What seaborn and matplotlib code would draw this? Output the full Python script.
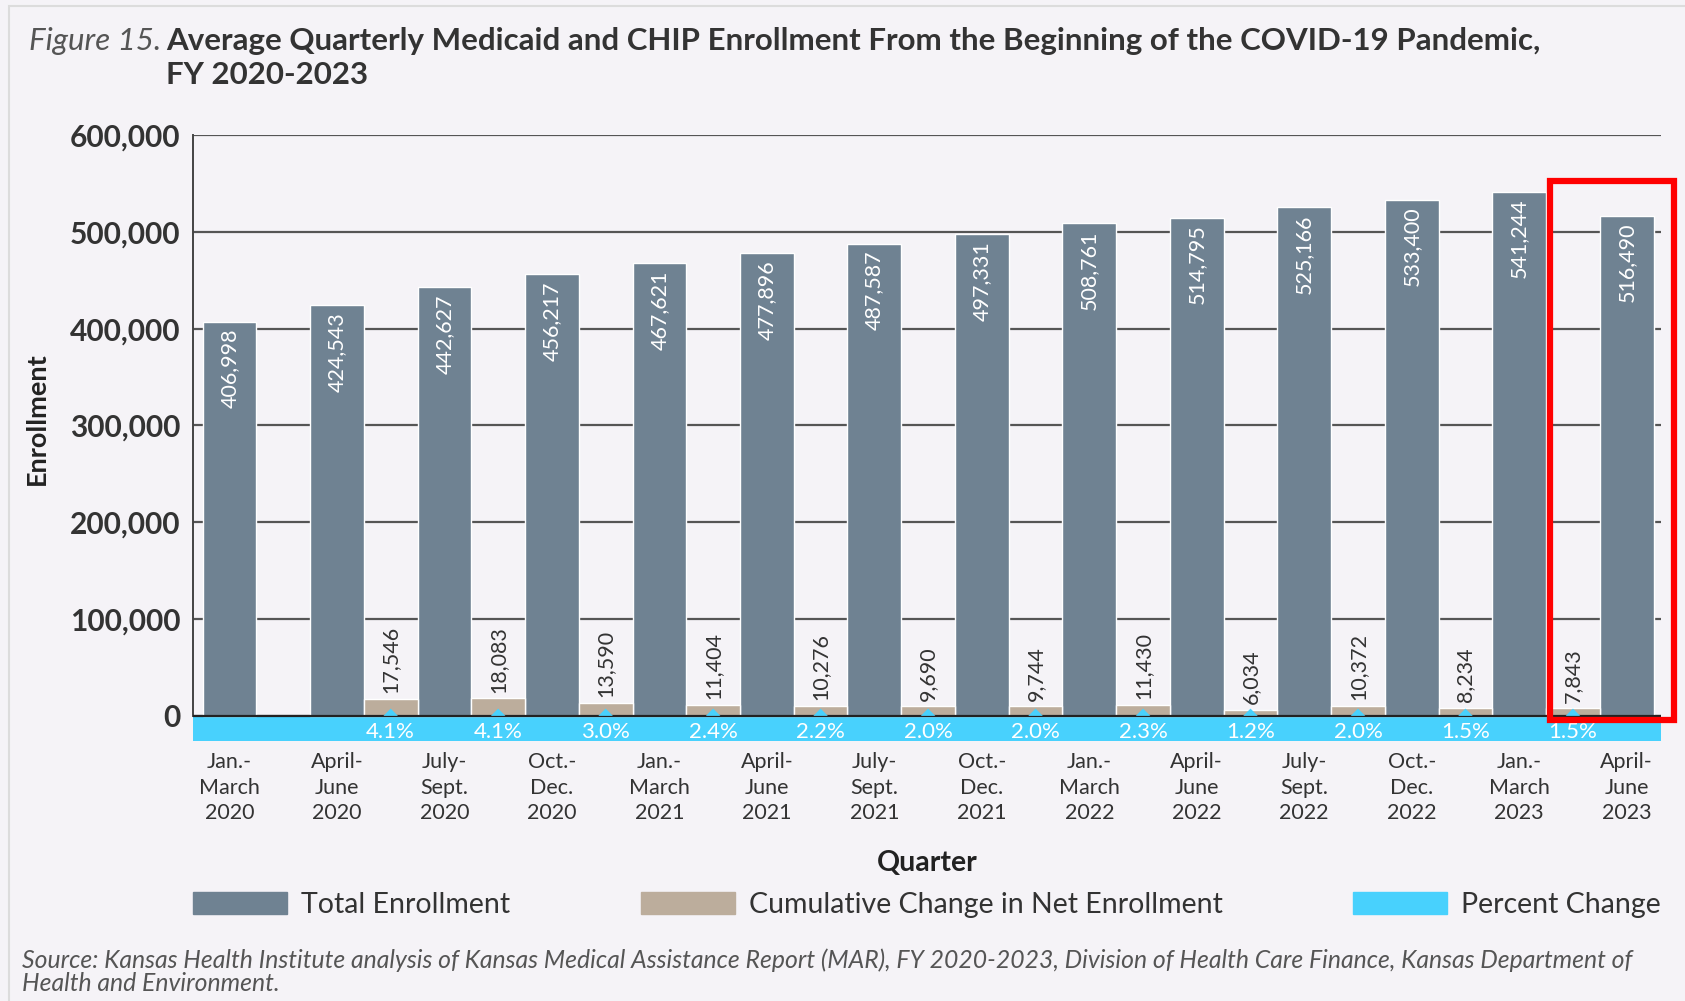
import matplotlib.pyplot as plt
import numpy as np
import pandas as pd
import seaborn as sns
from matplotlib.patches import Rectangle

quarters = ["Jan.-\nMarch\n2020", "April-\nJune\n2020", "July-\nSept.\n2020", "Oct.-\nDec.\n2020",
            "Jan.-\nMarch\n2021", "April-\nJune\n2021", "July-\nSept.\n2021", "Oct.-\nDec.\n2021",
            "Jan.-\nMarch\n2022", "April-\nJune\n2022", "July-\nSept.\n2022", "Oct.-\nDec.\n2022",
            "Jan.-\nMarch\n2023", "April-\nJune\n2023"]
total = [406998, 424543, 442627, 456217, 467621, 477896, 487587,
         497331, 508761, 514795, 525166, 533400, 541244, 516490]
# change vs previous quarter (no bar for first and last quarter)
change = [None, 17546, 18083, 13590, 11404, 10276, 9690,
          9744, 11430, 6034, 10372, 8234, 7843, None]
pct = [None, 4.1, 4.1, 3.0, 2.4, 2.2, 2.0, 2.0, 2.3, 1.2, 2.0, 1.5, 1.5, None]

GRAY = "#6f8292"
TAN = "#bcad9c"
CYAN = "#48d1fd"
BG = "#f5f3f7"
DARK = "#333333"

sns.set_style("white")
plt.rcParams["font.family"] = ["Lato", "DejaVu Sans"]

rows = []
for q, t, c in zip(quarters, total, change):
    rows.append({"quarter": q, "series": "Total Enrollment", "value": t})
    if c is not None:
        rows.append({"quarter": q, "series": "Cumulative Change in Net Enrollment", "value": c})
df = pd.DataFrame(rows)

fig = plt.figure(figsize=(16.85, 10.01), dpi=100, facecolor=BG)
ax = fig.add_axes([0.1145, 0.2597, 0.8713, 0.6054])
ax.set_facecolor(BG)

sns.barplot(data=df, x="quarter", y="value", hue="series", order=quarters,
            hue_order=["Total Enrollment", "Cumulative Change in Net Enrollment"],
            palette=[GRAY, TAN], width=1.0, dodge=True, saturation=1,
            legend=False, ax=ax, zorder=3)

ybot = -26000
ax.set_ylim(ybot, 600000)
n = len(quarters)
ax.set_xlim(-0.59, n - 1 + 0.07)
ax.axhspan(ybot, 0, color=CYAN, zorder=2, lw=0)
ax.axhline(0, color="#222222", lw=1.6, zorder=5)

# grid
ax.set_yticks(np.arange(0, 600001, 100000))
ax.yaxis.grid(True, color="#555555", lw=1.6, zorder=0)
ax.set_axisbelow(True)
ax.set_yticklabels([f"{v:,.0f}" for v in np.arange(0, 600001, 100000)],
                   fontsize=21.5, fontweight="bold", color=DARK)
ax.tick_params(axis="y", length=0, pad=9)
for s in ["top", "right", "bottom"]:
    ax.spines[s].set_visible(False)
ax.spines["left"].set_color("#444444")
ax.spines["left"].set_linewidth(1.4)
ax.spines["left"].set_bounds(0, 600000)

ax.set_xticks(np.arange(n) - 0.25)
ax.set_xticklabels(quarters, fontsize=15.5, color=DARK, linespacing=1.35)
ax.tick_params(axis="x", length=0, pad=8)
ax.set_xlabel("Quarter", fontsize=20.5, fontweight="bold", color="#222222", labelpad=19)
ax.set_ylabel("Enrollment", fontsize=19.5, fontweight="bold", color="#222222")
ax.yaxis.set_label_coords(-0.098, 0.532)

# value labels
gray_bars, tan_bars = ax.containers[0], ax.containers[1]
for p in gray_bars:
    h = p.get_height()
    ax.annotate(f"{h:,.0f}", (p.get_x() + p.get_width() / 2, h), xytext=(0, -5),
                textcoords="offset points", rotation=90, ha="center", va="top",
                color="white", fontsize=15.5, zorder=6)
tan_x = []
for p in tan_bars:
    h = p.get_height()
    if np.isnan(h):
        continue
    cx = p.get_x() + p.get_width() / 2
    tan_x.append(cx)
    ax.annotate(f"{h:,.0f}", (cx, h), xytext=(0, 4), textcoords="offset points",
                rotation=90, ha="center", va="bottom", color=DARK, fontsize=15.5,
                zorder=6)

pct_vals = [v for v in pct if v is not None]
sns.scatterplot(x=tan_x, y=[0] * len(tan_x), marker=[(-1, 0), (1, 0), (0, 1)],
                s=110, color=CYAN, edgecolor="none", ax=ax, zorder=7, legend=False)
for cx, v in zip(tan_x, pct_vals):
    ax.text(cx, ybot * 0.66, f"{v:.1f}%", ha="center", va="center", color="white",
            fontsize=16, zorder=6)

# highlight box around the latest quarter
ax.add_patch(Rectangle((n - 1 - 0.25 - 0.71, -4400), 1.15, 557000, fill=False,
                       edgecolor="#ff0000", lw=4.5, clip_on=False, zorder=10))

# legend
handles = [Rectangle((0, 0), 1, 1, color=c) for c in [GRAY, TAN, CYAN]]
fig.legend(handles, ["Total Enrollment", "Cumulative Change in Net Enrollment", "Percent Change"],
           loc="lower left", bbox_to_anchor=(0.1145, 0.083, 0.8713, 0.05), mode="expand",
           ncol=3, frameon=False, fontsize=20.5, handlelength=3.3, handleheight=0.8,
           handletextpad=0.5, borderaxespad=0, borderpad=0, labelcolor=DARK)

# title
fig.text(0.017, 0.973, "Figure 15.", fontsize=22.5, style="italic", color="#555555", va="top")
fig.text(0.0985, 0.973,
         "Average Quarterly Medicaid and CHIP Enrollment From the Beginning of the COVID-19 Pandemic,\nFY 2020-2023",
         fontsize=22.5, fontweight="bold", color="#333333", va="top", linespacing=1.27)

fig.text(0.013, 0.053,
         "Source: Kansas Health Institute analysis of Kansas Medical Assistance Report (MAR), FY 2020-2023, "
         "Division of Health Care Finance, Kansas Department of\nHealth and Environment.",
         fontsize=17.8, style="italic", color="#555555", va="top", linespacing=1.0)

# page frame
fig.add_artist(Rectangle((0.0053, -0.1), 1.2, 1.094, transform=fig.transFigure,
                         fill=False, edgecolor="#dcdcdc", lw=1.5))

fig.savefig("out.png", dpi=100, facecolor=BG)
